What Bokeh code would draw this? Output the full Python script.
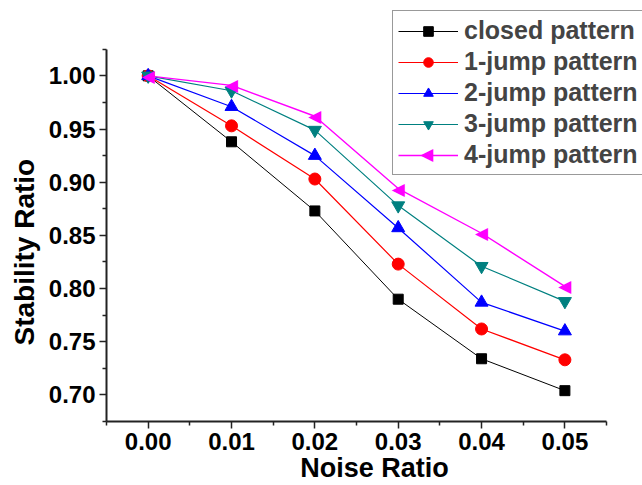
from bokeh.plotting import figure
from bokeh.models import (FixedTicker, NumeralTickFormatter, Legend, LegendItem, Range1d,
                          ColumnDataSource, Title)
from bokeh.core.properties import value
from bokeh.embed import file_html
from bokeh.resources import INLINE

noise = [0.00, 0.01, 0.02, 0.03, 0.04, 0.05]
closed = [1.000, 0.938, 0.873, 0.790, 0.734, 0.704]
jump1 = [1.000, 0.953, 0.903, 0.823, 0.762, 0.733]
jump2 = [1.000, 0.971, 0.925, 0.857, 0.787, 0.760]
jump3 = [1.000, 0.986, 0.949, 0.878, 0.821, 0.788]
jump4 = [1.000, 0.991, 0.962, 0.894, 0.852, 0.802]
names = ["closed pattern", "1-jump pattern", "2-jump pattern", "3-jump pattern", "4-jump pattern"]
x_ticks = [0.00, 0.01, 0.02, 0.03, 0.04, 0.05]
y_ticks = [0.70, 0.75, 0.80, 0.85, 0.90, 0.95, 1.00]

series = [closed, jump1, jump2, jump3, jump4]
colors = ["#000000", "#ff0000", "#0000ff", "#008080", "#ff00ff"]
markers = ["square", "circle", "triangle", "inverted_triangle", "left"]
sizes = [10, 12, 13, 13, 13]
widths = [1.0, 1.2, 1.2, 1.2, 1.4]
LEFT_TRI = "\u25c0"

# axis extents (data); the frame is widened to the canvas edge so the legend is not clipped
X0, X1 = -0.005, 0.055
Y0, Y1 = 0.675, 1.025
frame_left, frame_bottom_px = 105, 62
axis_len_x, axis_len_y = 501, 374
W, H = 642, 485
x_per_px = (X1 - X0) / axis_len_x
y_per_px = (Y1 - Y0) / axis_len_y
x_end = X1 + (W - frame_left - axis_len_x) * x_per_px
y_end = Y1 + (H - frame_bottom_px - axis_len_y) * y_per_px

p = figure(width=W, height=H, output_backend="svg", toolbar_location=None,
           x_range=Range1d(X0, x_end), y_range=Range1d(Y0, y_end),
           min_border_left=frame_left, min_border_right=0, min_border_top=0,
           min_border_bottom=frame_bottom_px)
p.outline_line_color = None
p.xgrid.visible = False
p.ygrid.visible = False
p.background_fill_color = "white"
p.border_fill_color = "white"

tri_style = dict(text_font=value("DejaVu Sans"), text_font_size="17px",
                 text_align="center", text_baseline="middle")
items = []
for ys, c, m, s, lw, n in zip(series, colors, markers, sizes, widths, names):
    src = ColumnDataSource(dict(x=noise, y=ys, tri=[LEFT_TRI] * len(noise)))
    r1 = p.line("x", "y", source=src, line_color=c, line_width=lw)
    if m == "left":
        r2 = p.text("x", "y", text="tri", source=src, text_color=c, **tri_style)
    else:
        r2 = p.scatter("x", "y", source=src, marker=m, size=s, fill_color=c, line_color=c)
    items.append(LegendItem(label=n, renderers=[r1, r2]))

p.xaxis.ticker = FixedTicker(ticks=x_ticks,
                             minor_ticks=[X0 + 0.01 * i for i in range(7)])
p.yaxis.ticker = FixedTicker(ticks=y_ticks,
                             minor_ticks=[Y0 + 0.05 * i for i in range(8)])
p.xaxis.formatter = NumeralTickFormatter(format="0.00")
p.yaxis.formatter = NumeralTickFormatter(format="0.00")
p.xaxis.bounds = (X0, X1)
p.yaxis.bounds = (Y0, Y1)

for ax in (p.xaxis, p.yaxis):
    ax.axis_line_width = 2
    ax.axis_line_color = "#222222"
    ax.major_tick_in = 0
    ax.major_tick_out = 7
    ax.minor_tick_in = 0
    ax.minor_tick_out = 4
    ax.major_tick_line_width = 1.5
    ax.minor_tick_line_width = 1.5
    ax.major_tick_line_color = "#222222"
    ax.minor_tick_line_color = "#222222"
    ax.major_label_text_font = "Liberation Sans"
    ax.major_label_text_font_style = "bold"
    ax.major_label_text_font_size = "24px"
    ax.major_label_text_color = "black"
    ax.axis_label_text_font = "Liberation Sans"
    ax.axis_label_text_font_style = "bold"
    ax.axis_label_text_font_size = "27px"
    ax.axis_label_text_color = "black"

p.xaxis.axis_label = "Noise Ratio"
p.xaxis.major_label_standoff = 4
p.yaxis.major_label_standoff = 4
p.xaxis.axis_label_standoff = 0

ytitle = Title(text="Stability Ratio", align="left", offset=76, standoff=12,
               text_font="Liberation Sans", text_font_style="bold",
               text_font_size="28px", text_color="black")
p.add_layout(ytitle, "left")

legend = Legend(items=items, location=(286, 246))
legend.border_line_color = "#333333"
legend.border_line_width = 1.5
legend.background_fill_alpha = 0
legend.label_text_font = "Liberation Sans"
legend.label_text_font_style = "bold"
legend.label_text_font_size = "25px"
legend.glyph_width = 60
legend.glyph_height = 24
legend.label_height = 24
legend.spacing = 2
legend.padding = 5
legend.margin = 0
legend.label_standoff = 6
p.add_layout(legend, "center")

# left-pointing marker for the 4-jump legend row (legend glyph centre: 321 px right, 269 px up from frame corner)
leg_x = X0 + 321 * x_per_px
leg_y = Y0 + 269 * y_per_px
p.text([leg_x], [leg_y], text=[LEFT_TRI], text_color=colors[4], **tri_style)

open("out.html", "w").write(file_html(p, INLINE))
